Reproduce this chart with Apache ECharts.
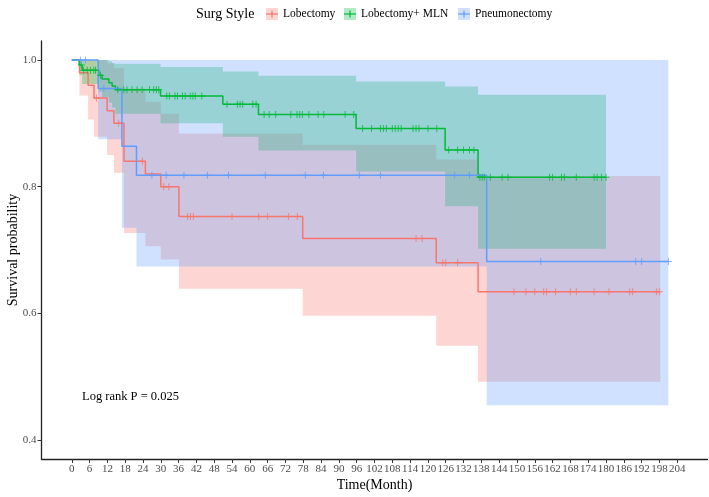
<!DOCTYPE html>
<html>
<head>
<meta charset="utf-8">
<script src="https://cdn.jsdelivr.net/npm/echarts@6/dist/echarts.min.js"></script>
<style>
  html, body { margin: 0; padding: 0; background: #fff; }
  #chart { width: 709px; height: 497px; }
</style>
</head>
<body>
<div id="chart"></div>
<script>
// Lobectomy (red)
const redTime = [0, 2.6, 5.5, 7.5, 11.9, 14.2, 17.6, 24.8, 30, 36.1, 77.8, 122.8, 136.9];
const redSurv = [1, 0.98, 0.96, 0.94, 0.92, 0.9, 0.84, 0.82, 0.8, 0.753, 0.718, 0.68, 0.634];
const redLower = [1, 0.944, 0.906, 0.879, 0.85, 0.822, 0.727, 0.706, 0.685, 0.639, 0.596, 0.549, 0.492];
const redUpper = [1, 1, 1, 1, 0.995, 0.987, 0.955, 0.934, 0.915, 0.884, 0.866, 0.843, 0.817];
const redEnd = 198.3;
const redCensor = [8.3, 15.8, 23.8, 31, 32.7, 39, 40, 41, 54, 63, 66, 73, 76, 116, 118, 125, 126, 130,
  149, 153, 156, 159, 160, 163, 168, 170, 176, 181, 188, 189, 197, 198];

// Lobectomy+ MLN (green)
const greenTime = [0, 2.5, 3.5, 9.1, 10.2, 12.5, 13.6, 14.7, 29.9, 50.9, 62.9, 95.8, 125.8, 136.9];
const greenSurv = [1, 0.992, 0.984, 0.976, 0.97, 0.964, 0.959, 0.953, 0.943, 0.93, 0.914, 0.892, 0.858, 0.815];
const greenLower = [1, 0.976, 0.962, 0.95, 0.941, 0.933, 0.925, 0.915, 0.9, 0.879, 0.857, 0.824, 0.769, 0.702];
const greenUpper = [1, 1, 1, 1, 1, 0.998, 0.995, 0.994, 0.989, 0.982, 0.975, 0.966, 0.958, 0.945];
const greenEnd = 180;
const greenCensor = [3.2, 4, 5.2, 6.3, 7.4, 8, 9.7, 15.5, 17.5, 18.6, 20.3, 22, 23.7, 26.2, 27.6, 28.5, 29.3,
  32, 32.9, 34.8, 35.6, 37.3, 38.2, 39.9, 40.8, 41.6, 43.8, 52.3, 55.8, 56.7, 57.6, 61, 62.1,
  64.8, 66.5, 68.7, 73.8, 75.9, 76.8, 77.7, 79.9, 83, 84.9, 92.1, 95,
  98, 101, 104, 105, 106, 108, 109, 110, 111, 115, 116, 117, 120, 123,
  127, 130, 132, 134, 135.5, 137.5, 138.3, 139, 141, 145, 147, 161, 162, 165, 166, 170, 176, 177, 178.5, 180];

// Pneumonectomy (blue)
const blueTime = [0, 8.9, 16.9, 21.8, 139.8];
const blueSurv = [1, 0.955, 0.864, 0.818, 0.682];
const blueLower = [1, 0.875, 0.735, 0.674, 0.455];
const blueUpper = [1, 1, 1, 1, 1];
const blueEnd = 201;
const blueCensor = [2.9, 4.6, 10.8, 27, 31.8, 37.8, 45.7, 52.8, 65.2, 78.7, 84.8, 96.9, 104, 129, 134,
  158, 190, 192, 201];

const xTicks = [0, 6, 12, 18, 24, 30, 36, 42, 48, 54, 60, 66, 72, 78, 84, 90, 96, 102, 108, 114, 120,
  126, 132, 138, 144, 150, 156, 162, 168, 174, 180, 186, 192, 198, 204];
const yTicks = [0.4, 0.6, 0.8, 1.0];

const groups = ["Lobectomy", "Lobectomy+ MLN", "Pneumonectomy"];
const lineColors = ["#F8766D", "#00BA38", "#619CFF"];
const fillColors = ["rgba(248,118,109,0.3)", "rgba(0,186,56,0.3)", "rgba(97,156,255,0.3)"];

const FONT = '"Liberation Serif", "Times New Roman", serif';

function stepData(times, vals, end) {
  const out = times.map((t, i) => [t, vals[i]]);
  out.push([end, vals[vals.length - 1]]);
  return out;
}

function levelAt(times, surv, t) {
  let v = surv[0];
  for (let i = 0; i < times.length; i++) {
    if (times[i] <= t) v = surv[i];
  }
  return v;
}

// confidence band as one step polygon, placed with api.coord
function bandSeries(key, times, lower, upper, end, fill) {
  const rows = times.map((t, i) => [t, lower[i], upper[i], i + 1 < times.length ? times[i + 1] : end]);
  return {
    name: key, type: "custom", silent: true, z: 1,
    data: rows,
    encode: { x: [0, 3], y: [1, 2] },
    renderItem: (params, api) => {
      if (params.dataIndex !== 0) return;
      const top = [];
      const bottom = [];
      rows.forEach((r) => {
        top.push(api.coord([r[0], r[2]]), api.coord([r[3], r[2]]));
        bottom.push(api.coord([r[0], r[1]]), api.coord([r[3], r[1]]));
      });
      return {
        type: "polygon",
        shape: { points: top.concat(bottom.reverse()) },
        style: { fill: fill, stroke: null },
      };
    },
  };
}

const plusIcon = "path://M3,0L4,0L4,3L7,3L7,4L4,4L4,7L3,7L3,4L0,4L0,3L3,3Z";

function survSeries(name, times, surv, end, color) {
  return {
    name: name, type: "line", step: "end", data: stepData(times, surv, end),
    symbol: "none", silent: true, z: 3,
    lineStyle: { color: color, width: 1.5 }, itemStyle: { color: color },
  };
}

function censorSeries(name, times, surv, censor, color) {
  return {
    name: name + "-cens", type: "scatter", silent: true, z: 4,
    data: censor.map((t) => [t, levelAt(times, surv, t)]),
    symbol: plusIcon, symbolSize: 7, itemStyle: { color: color },
  };
}

const series = [
  bandSeries("r-ci", redTime, redLower, redUpper, redEnd, fillColors[0]),
  bandSeries("g-ci", greenTime, greenLower, greenUpper, greenEnd, fillColors[1]),
  bandSeries("b-ci", blueTime, blueLower, blueUpper, blueEnd, fillColors[2]),
  survSeries(groups[0], redTime, redSurv, redEnd, lineColors[0]),
  survSeries(groups[1], greenTime, greenSurv, greenEnd, lineColors[1]),
  survSeries(groups[2], blueTime, blueSurv, blueEnd, lineColors[2]),
  censorSeries(groups[0], redTime, redSurv, redCensor, lineColors[0]),
  censorSeries(groups[1], greenTime, greenSurv, greenCensor, lineColors[1]),
  censorSeries(groups[2], blueTime, blueSurv, blueCensor, lineColors[2]),
];

// legend: one component per item so the keys sit where they should
const legendLeft = [266, 344, 458];
const legends = groups.map((g, i) => ({
  left: legendLeft[i], top: 8, padding: 0, orient: "horizontal", selectedMode: false,
  icon: "rect", itemWidth: 12, itemHeight: 12,
  data: [{ name: g, itemStyle: { color: fillColors[i] } }],
  textStyle: { fontFamily: FONT, fontSize: 11.5, color: "#000" },
}));

const graphics = [
  {
    type: "text", left: 196, top: 7, z: 100,
    style: { text: "Surg Style", font: "14px " + FONT, fill: "#000" },
  },
  {
    type: "text", left: 82, top: 390, z: 100,
    style: { text: "Log rank P = 0.025", font: "12.5px " + FONT, fill: "#000" },
  },
];
legendLeft.forEach((l, i) => {
  graphics.push({
    type: "line", silent: true, z: 100,
    shape: { x1: l, y1: 14, x2: l + 12, y2: 14 },
    style: { stroke: lineColors[i], lineWidth: 1.2 },
  });
  graphics.push({
    type: "line", silent: true, z: 100,
    shape: { x1: l + 6, y1: 10.5, x2: l + 6, y2: 17.5 },
    style: { stroke: lineColors[i], lineWidth: 1.2 },
  });
});

const myChart = echarts.init(document.querySelector("#chart"));
const option = {
  animation: false,
  backgroundColor: "#fff",
  grid: { left: 41.5, right: 1.5, top: 41, bottom: 38, outerBoundsMode: "none", containLabel: false },
  legend: legends,
  graphic: graphics,
  xAxis: {
    type: "value", min: -10.2, max: 214.2,
    name: "Time(Month)", nameLocation: "middle", nameGap: 19, nameMoveOverlap: false,
    nameTextStyle: { fontFamily: FONT, fontSize: 14, color: "#000" },
    splitLine: { show: false },
    axisLine: { onZero: false, lineStyle: { color: "#222", width: 1.3 } },
    axisTick: { customValues: xTicks, length: 4, lineStyle: { color: "#333", width: 1 } },
    axisLabel: {
      customValues: xTicks, margin: 5,
      fontFamily: FONT, fontSize: 11, color: "#4d4d4d",
    },
  },
  yAxis: {
    type: "value", min: 0.37, max: 1.03,
    name: "Survival probability", nameLocation: "middle", nameGap: 21.5, nameMoveOverlap: false,
    nameTextStyle: { fontFamily: FONT, fontSize: 14, color: "#000" },
    splitLine: { show: false },
    axisLine: { show: true, onZero: false, lineStyle: { color: "#222", width: 1.3 } },
    axisTick: { show: true, customValues: yTicks, length: 4, lineStyle: { color: "#333", width: 1 } },
    axisLabel: {
      customValues: yTicks, margin: 5,
      fontFamily: FONT, fontSize: 11, color: "#4d4d4d",
      formatter: (v) => v.toFixed(1),
    },
  },
  series: series,
};
myChart.setOption(option);
</script>
</body>
</html>
